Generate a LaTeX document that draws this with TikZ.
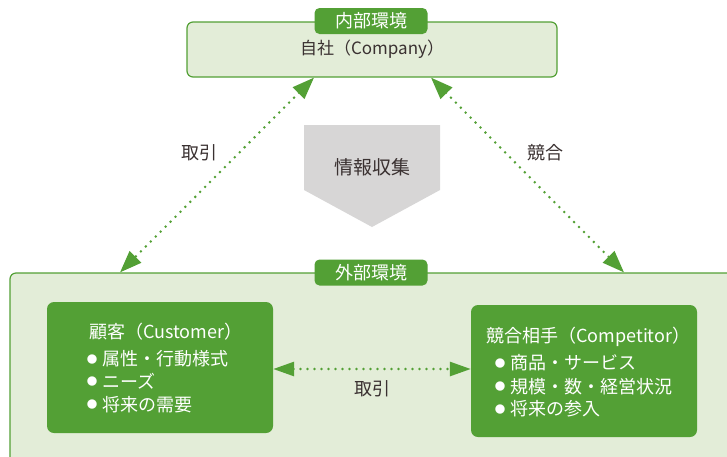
\documentclass[tikz,border=0pt]{standalone}
\usepackage{fontspec}
\setmainfont{Noto Sans CJK JP}
\usetikzlibrary{arrows.meta}
\definecolor{dg}{HTML}{53A035}
\definecolor{lg}{HTML}{E3EDD8}
\definecolor{gr}{HTML}{D7D6D6}
\definecolor{tx}{HTML}{3A3131}
\tikzset{
  fs/.style={font=\fontsize{#1}{#1}\selectfont},
  envbox/.style={draw=dg, line width=1.2pt, fill=lg, rounded corners=6pt, inner sep=0pt},
  tabbox/.style={fill=dg, rounded corners=5pt, text=white, fs=18, inner sep=0pt, minimum width=113pt, minimum height=26pt},
  greenbox/.style={fill=dg, rounded corners=7pt, inner sep=0pt, minimum width=226pt},
  ttl/.style={text=white, fs=18, anchor=west, inner sep=0pt},
  itm/.style={text=white, fs=18, anchor=west, inner sep=0pt},
  bul/.style={text=white, fs=10.5, inner sep=0pt},
  lbl/.style={text=tx, fs=18, inner sep=0pt},
  dotline/.style={draw=dg, line width=2.8pt, line cap=round, dash pattern=on 0pt off 7pt},
  tips/.style={{Triangle[length=22pt,width=16pt]}-{Triangle[length=22pt,width=16pt]}},
  midtips/.style={{Triangle[length=21pt,width=14pt]}-{Triangle[length=21pt,width=14pt]}}
}
\begin{document}
\begin{tikzpicture}[x=1pt,y=-1pt]
\useasboundingbox (0,0) rectangle (727,456);
\clip (0,0) rectangle (727,456);

% outer environment
\node[envbox, minimum width=760pt, minimum height=210pt] (outer) at (390,378) {};
\node[tabbox] (tabout) at (371,272.5) {外部環境};

% top environment
\node[envbox, minimum width=370pt, minimum height=55pt, text=tx, fs=17] (top) at (372,49.5) {自社（Company）};
\node[tabbox] (tabin) at (371,21) {内部環境};

% information collection pentagon
\fill[gr] (304,125) -- (440,125) -- (440,190) -- (372,227) -- (304,190) -- cycle;
\node[lbl, fs=19] (info) at (372,167) {情報収集};

% customer box
\node[greenbox, minimum height=131pt] (cust) at (160,367.5) {};
\node[ttl] (custt) at (89,332) {顧客（Customer）};
\node[bul] (cb1) at (92,359) {●};
\node[itm] (ci1) at (102,359) {属性・行動様式};
\node[bul] (cb2) at (92,381.5) {●};
\node[itm] (ci2) at (102,381.5) {ニーズ};
\node[bul] (cb3) at (92,404.5) {●};
\node[itm] (ci3) at (102,404.5) {将来の需要};

% competitor box
\node[greenbox, minimum height=132pt] (comp) at (584,371) {};
\node[ttl] (compt) at (486,337) {競合相手（Competitor）};
\node[bul] (pb1) at (500,363) {●};
\node[itm] (pi1) at (510,363) {商品・サービス};
\node[bul] (pb2) at (500,386.5) {●};
\node[itm] (pi2) at (510,386.5) {規模・数・経営状況};
\node[bul] (pb3) at (500,409) {●};
\node[itm] (pi3) at (510,409) {将来の参入};

% connectors
\path (top.south) ++(-58,0) coordinate (a1);
\path (outer.north) ++(-270,0) coordinate (a2);
\path (top.south) ++(59,0) coordinate (b1);
\path (outer.north) ++(234,0) coordinate (b2);
\coordinate (mid) at (372,369);

\draw[dotline, tips] (a1) -- (a2);
\draw[dotline, tips] (b1) -- (b2);
\draw[dotline, midtips] (cust.east |- mid) -- (comp.west |- mid);

\node[lbl] (l1) at (199,153) {取引};
\node[lbl] (l2) at (545,153) {競合};
\node[lbl] (l3) at (372,389) {取引};
\end{tikzpicture}
\end{document}
